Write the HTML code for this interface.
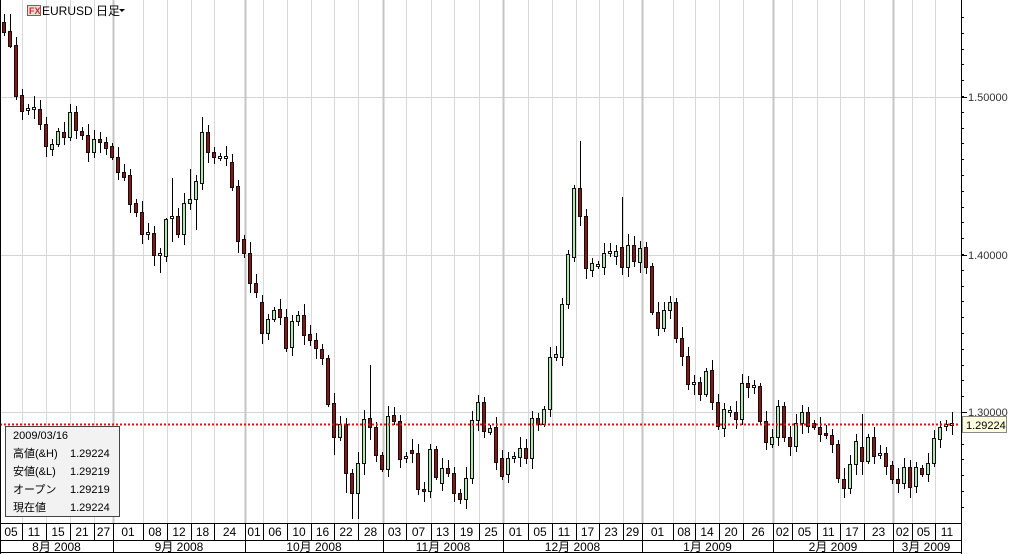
<!DOCTYPE html>
<html><head><meta charset="utf-8"><style>
html,body{margin:0;padding:0;background:#fff;width:1015px;height:554px;overflow:hidden}
svg{display:block;font-family:"Liberation Sans","Noto Sans CJK JP",sans-serif}
</style></head><body>
<svg id="c" width="1015" height="554" viewBox="0 0 1015 554" xmlns="http://www.w3.org/2000/svg">
<rect x="0" y="0" width="1015" height="554" fill="#fff"/>
<g id="grid"></g>
<g id="candles"></g>
<line x1="0" y1="424.5" x2="960" y2="424.5" stroke="#dd1111" stroke-width="2" stroke-dasharray="2,2"/>
<!-- header -->
<rect x="27.5" y="5.5" width="13" height="10" fill="#f6dada" stroke="#a05050"/>
<text x="29" y="14" font-size="9" font-weight="bold" fill="#c03030">FX</text>
<text x="42" y="15" font-size="12" fill="#000">EURUSD 日足</text>
<path d="M119 9 L125 9 L122 12 Z" fill="#000"/>
<!-- right axis -->
<line x1="961.5" y1="0" x2="961.5" y2="554" stroke="#000"/>
<g id="yaxis" font-size="11" fill="#333"></g>
<rect x="962.5" y="416.5" width="44" height="16" fill="#ffffe0" stroke="#888"/>
<text x="966" y="429" font-size="11" fill="#000">1.29224</text>
<!-- info box -->
<rect x="5.5" y="426.5" width="114" height="90" fill="#f2f2f2" stroke="#444"/>
<g font-size="11" fill="#000">
<text x="13" y="439">2009/03/16</text>
<text x="13" y="457">高値(&amp;H)</text><text x="70" y="457">1.29224</text>
<text x="13" y="475">安値(&amp;L)</text><text x="70" y="475">1.29219</text>
<text x="13" y="493">オープン</text><text x="70" y="493">1.29219</text>
<text x="13" y="511">現在値</text><text x="70" y="511">1.29224</text>
</g>
<!-- bottom axis -->
<g id="xaxis" font-size="12" fill="#000"></g>
<line x1="0.5" y1="0" x2="0.5" y2="554" stroke="#000"/>
</svg>
<script>
var NS="http://www.w3.org/2000/svg";
function el(p,t,a,txt){var e=document.createElementNS(NS,t);for(var k in a)e.setAttribute(k,a[k]);if(txt!=null)e.textContent=txt;p.appendChild(e);return e;}
var grid=document.getElementById('grid'),cg=document.getElementById('candles'),ya=document.getElementById('yaxis'),xa=document.getElementById('xaxis');
[97,255,412].forEach(function(y){el(grid,'line',{x1:0,y1:y+.5,x2:961,y2:y+.5,stroke:'#d4d4d4'});});
var seps=[22,46,70,94,113,143,167,191,214,245,263,287,311,334,358,383,406,431,454,479,503,528,552,576,599,623,642,673,695,719,743,773,792,817,840,864,893,912,935];
var months=[113,245,383,503,642,773,893];
seps.forEach(function(x){var m=months.indexOf(x)>=0;el(grid,'line',{x1:x+.5,y1:0,x2:x+.5,y2:523,stroke:m?'#c4c4c4':'#d8d8d8','stroke-width':m?2:1});});
[[97,'1.50000'],[255,'1.40000'],[412,'1.30000']].forEach(function(a){el(ya,'text',{x:968,y:a[0]+4},a[1]);el(ya,'line',{x1:961,y1:a[0]+.5,x2:967,y2:a[0]+.5,stroke:'#000'});});
for(var p=1.22;p<=1.56;p+=0.01){var y=Math.round(412-(p-1.3)*1580);if(y<2||y>522)continue;el(ya,'line',{x1:961,y1:y+.5,x2:964,y2:y+.5,stroke:'#000'});}
el(xa,'line',{x1:0,y1:523.5,x2:961,y2:523.5,stroke:'#000'});
el(xa,'line',{x1:0,y1:540.5,x2:961,y2:540.5,stroke:'#000'});
el(xa,'line',{x1:0,y1:552.5,x2:961,y2:552.5,stroke:'#000'});
var lab=['05','11','15','21','27','01','08','12','18','24','01','06','10','16','22','28','03','07','13','19','25','01','05','11','17','23','29','01','08','14','20','26','02','05','11','17','23','02','05','11'];
var bs=[0,22,46,70,94,113,143,167,191,214,245,263,287,311,334,358,383,406,431,454,479,503,528,552,576,599,623,642,673,695,719,743,773,792,817,840,864,893,912,935,959];
for(var i=0;i<lab.length;i++){var a=bs[i],b=bs[i+1];if(i>0)el(xa,'line',{x1:a+.5,y1:523,x2:a+.5,y2:540,stroke:'#000'});el(xa,'text',{x:(a+b)/2,y:536,'text-anchor':'middle'},lab[i]);}
var mb=[0,113,245,383,503,642,773,893,959],mn=['8月 2008','9月 2008','10月 2008','11月 2008','12月 2008','1月 2009','2月 2009','3月 2009'];
for(var i=0;i<mn.length;i++){if(i>0)el(xa,'line',{x1:mb[i]+.5,y1:540,x2:mb[i]+.5,y2:553,stroke:'#000'});el(xa,'text',{x:(mb[i]+mb[i+1])/2,y:551,'text-anchor':'middle'},mn[i]);}
var D=`4 22 32 r
10 31 46 r
16 45 96 r
22 95 111 r
28 109 d
34 108 d
40 109 124 r
46 124 146 r
52 144 149 g
58 131 144 g
64 132 137 r
70 112 137 g
76 112 130 r
82 131 135 r
88 135 152 r
94 139 152 g
100 139 142 r
106 142 148 r
112 146 157 r
118 157 172 r
124 172 177 r
130 175 204 r
136 203 212 r
142 212 234 r
148 233 d
154 233 255 r
160 254 d
166 219 256 g
172 217 d
178 216 234 r
184 203 234 g
190 199 203 g
196 181 199 g
202 132 183 g
208 132 152 r
214 152 157 r
220 157 d
226 157 d
232 162 187 r
238 186 241 r
244 239 253 r
250 253 283 r
256 283 292 r
262 302 333 r
268 319 333 g
274 310 319 g
280 309 317 r
286 317 348 r
292 321 347 g
298 315 321 g
304 315 335 r
310 334 340 r
316 340 348 r
322 349 358 r
328 358 404 r
334 403 437 r
340 424 437 g
346 424 473 r
352 473 493 r
358 463 493 g
364 419 463 g
370 418 427 r
376 427 455 r
382 455 469 r
388 416 469 g
394 415 421 r
400 421 459 r
406 457 d
412 450 453 r
418 453 489 r
424 489 491 r
430 449 491 g
436 449 477 r
442 468 483 g
448 468 473 r
454 473 493 r
460 493 499 r
466 478 499 g
472 420 478 g
478 402 420 g
484 402 431 r
490 428 432 g
496 427 462 r
502 458 476 r
508 458 474 g
514 456 458 g
520 448 457 g
526 448 458 r
532 418 458 g
538 418 424 r
544 409 424 g
550 357 409 g
556 354 357 g
562 304 357 g
568 254 304 g
574 188 257 g
580 188 216 r
586 216 268 r
592 263 270 g
598 265 d
604 253 267 g
610 252 d
616 251 256 g
622 247 267 r
628 245 267 g
634 245 261 r
640 248 262 g
646 247 267 r
652 266 312 r
658 312 328 r
664 310 328 g
670 302 310 g
676 302 338 r
682 338 356 r
688 356 384 r
694 383 d
700 382 394 r
706 371 394 g
712 370 402 r
718 402 426 r
724 409 428 g
730 411 d
736 412 419 r
742 383 419 g
748 383 387 r
754 386 d
760 386 421 r
766 421 442 r
772 437 444 g
778 406 437 g
784 406 437 r
790 437 446 r
796 423 446 g
802 412 423 g
808 412 426 r
814 423 427 r
820 427 434 r
826 433 435 r
832 435 444 r
838 444 478 r
844 479 488 r
850 464 488 g
856 441 464 g
862 447 461 r
868 437 461 g
874 437 456 r
880 454 d
886 453 466 r
892 465 479 r
898 479 483 r
904 467 483 g
910 467 487 r
916 467 486 g
922 468 474 r
928 463 474 g
934 438 463 g
940 427 439 g
946 425 d
952 424 d`;
var W={4:[14,36],10:[14,48],202:[117,190],352:[null,519],358:[null,519],370:[365,440],580:[141,226],574:[185,262],622:[197,275],862:[414,475],346:[null,493],238:[null,253],160:[null,273],166:[218,262],172:[178,242],184:[193,245],190:[169,210],196:[175,230],334:[null,455],364:[null,475]};
D.split('\n').forEach(function(l,i){var f=l.trim().split(/\s+/),x=+f[0],t=+f[1],b,ty;
 if(f[2]==='d'){b=t+1;ty='d';t=t-1;}else{b=+f[2];ty=f[3];}
 var hi=t-(3+(i*7)%9),lo=b+(3+(i*5)%9);
 if(W[x]){if(W[x][0]!=null)hi=W[x][0];if(W[x][1]!=null)lo=W[x][1];}
 el(cg,'line',{x1:x+.5,y1:hi,x2:x+.5,y2:lo,stroke:'#000','stroke-width':1});
 var fill=ty==='r'?'#8b1414':(ty==='g'?'#b4e4b4':'#fff');
 el(cg,'rect',{x:x-1.5,y:t+.5,width:3,height:Math.max(b-t,1),fill:fill,stroke:'#111','stroke-width':1});
});
</script>
</body></html>
